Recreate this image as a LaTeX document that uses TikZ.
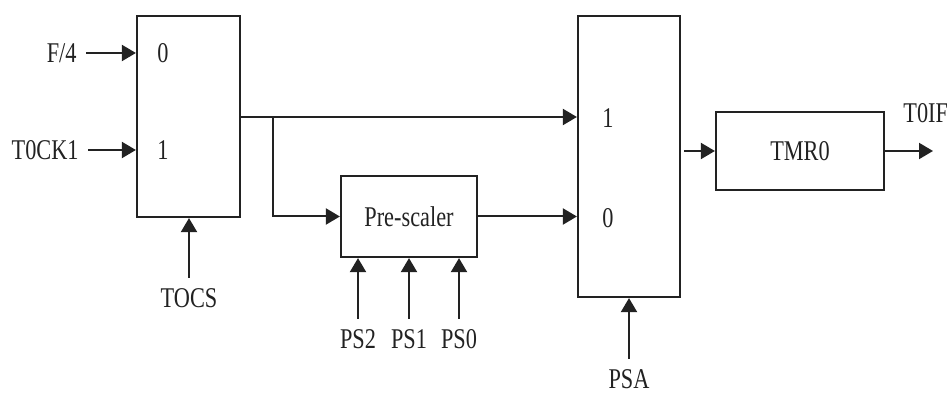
\documentclass[tikz,border=0pt]{standalone}
\usepackage{fontspec}
\setmainfont{Liberation Serif}[FakeStretch=0.78]
\usetikzlibrary{arrows.meta}
\definecolor{ink}{HTML}{222222}
\begin{document}
\begin{tikzpicture}[x=0.5pt,y=-0.5pt,
  font=\fontsize{14.3}{17}\selectfont,
  every node/.style={text=ink},
  box/.style={draw=ink,line width=1.1pt,rectangle,inner sep=0pt},
  lbl/.style={inner xsep=4.5pt,inner ysep=5pt},
  wire/.style={draw=ink,line width=1pt},
  arr/.style={wire,-{Triangle[length=7pt,width=8pt]}}]
\useasboundingbox (0,0) rectangle (947,394);
% blocks
\node[box,minimum width=51.5pt,minimum height=100.5pt] (mux1) at (188.5,116.5) {};
\node[box,minimum width=68pt,minimum height=40.5pt] (pre) at (409,216.5) {Pre-scaler};
\node[box,minimum width=51pt,minimum height=140.5pt] (mux2) at (629,156.5) {};
\node[box,minimum width=84pt,minimum height=39pt] (tmr) at (800,151) {TMR0};
% mux labels
\node (m1a) at (163,53) {0};
\node (m1b) at (163,150) {1};
\node (m2a) at (608,118) {1};
\node (m2b) at (608,218) {0};
% external labels
\node[lbl,anchor=east] (f4) at (86,53) {F/4};
\node[lbl,anchor=east] (tck) at (88,150) {T0CK1};
\node[lbl,anchor=north] (tocs) at (189,278) {TOCS};
\node[lbl,anchor=north] (ps2) at (358,319) {PS2};
\node[lbl,anchor=north] (ps1) at (409,319) {PS1};
\node[lbl,anchor=north] (ps0) at (459,319) {PS0};
\node[lbl,anchor=north] (psa) at (629,359) {PSA};
\node[anchor=west,inner sep=0pt] (t0if) at (903,113) {T0IF};
% connectors
\coordinate (br) at (273,117);
\coordinate (out) at (933,151);
\draw[arr] (f4.east) -- (f4.east -| mux1.west);
\draw[arr] (tck.east) -- (tck.east -| mux1.west);
\draw[arr] (tocs.north) -- (tocs.north |- mux1.south);
\draw[wire] (mux1.east |- br) -- (br);
\draw[arr] (br) -- (br -| mux2.west);
\draw[arr] (br) |- (pre.west);
\draw[arr] (pre.east) -- (pre.east -| mux2.west);
\draw[arr] (ps2.north) -- (ps2.north |- pre.south);
\draw[arr] (ps1.north) -- (ps1.north |- pre.south);
\draw[arr] (ps0.north) -- (ps0.north |- pre.south);
\draw[arr] (psa.north) -- (psa.north |- mux2.south);
\draw[arr] ([xshift=1.5pt]mux2.east |- tmr.west) -- (tmr.west);
\draw[arr] (tmr.east) -- (out);
\end{tikzpicture}
\end{document}
